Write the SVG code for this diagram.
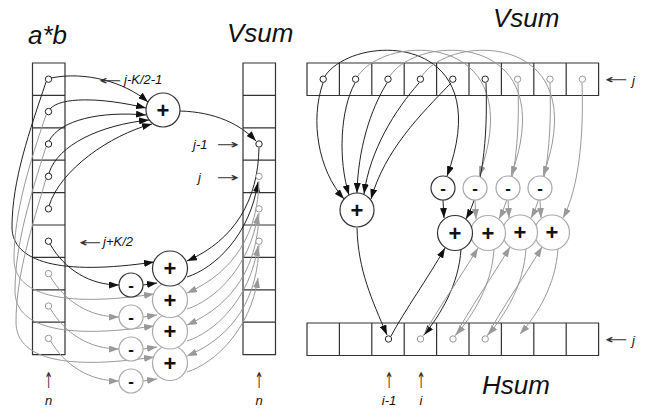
<svg xmlns="http://www.w3.org/2000/svg" width="653" height="408" viewBox="0 0 653 408">
  <style>
    .cell { fill: none; stroke: #333; stroke-width: 1.2; }
    .pt { fill: #fff; stroke: #222; stroke-width: 1; }
    .ptg { fill: #fff; stroke: #999; stroke-width: 1; }
    .k { fill: none; stroke: #222; stroke-width: 1; marker-end: url(#ak); }
    .g { fill: none; stroke: #999; stroke-width: 1; marker-end: url(#ag); }
    .op circle { fill: #fff; stroke: #333; stroke-width: 1.2; }
    .op.gr circle { stroke: #aaa; }
    .plus { font-family: "Liberation Sans", Arial, sans-serif; font-weight: bold; font-size: 22px; text-anchor: middle; fill: #111; }
    .minus { font-family: "Liberation Sans", Arial, sans-serif; font-weight: bold; font-size: 17px; text-anchor: middle; fill: #111; }
    .title { font-family: "Liberation Sans", Arial, sans-serif; font-style: italic; font-size: 26px; fill: #111; }
    .lbl { font-family: "Liberation Sans", Arial, sans-serif; font-style: italic; font-size: 13px; fill: #111; }
    .arr { font-family: "DejaVu Sans", sans-serif; font-size: 13px; fill: #333; }
    .up { font-family: "DejaVu Sans", sans-serif; font-size: 11px; fill: #333; text-anchor: middle; }
  </style>
  <defs>
    <marker id="ak" viewBox="0 0 10 7" refX="10" refY="3.5" markerWidth="10" markerHeight="7" orient="auto" markerUnits="userSpaceOnUse">
      <path d="M0,0 L10,3.5 L0,7 z" fill="#111"/>
    </marker>
    <marker id="ag" viewBox="0 0 10 7" refX="10" refY="3.5" markerWidth="10" markerHeight="7" orient="auto" markerUnits="userSpaceOnUse">
      <path d="M0,0 L10,3.5 L0,7 z" fill="#999"/>
    </marker>
  </defs>
  <rect width="653" height="408" fill="#fff"/>

  <!-- titles -->
  <text class="title" x="28" y="44">a*b</text>
  <text class="title" x="227" y="42">Vsum</text>
  <text class="title" x="493" y="27">Vsum</text>
  <text class="title" x="482" y="394">Hsum</text>

  <!-- arrays -->
  <g id="array-ab">
    <path class="cell" d="M32.5,63 H65 V354.6 H32.5 Z M32.5,95.4 H65 M32.5,127.8 H65 M32.5,160.2 H65 M32.5,192.6 H65 M32.5,225 H65 M32.5,257.4 H65 M32.5,289.8 H65 M32.5,322.2 H65"/>
  </g>
  <g id="array-vsum-col">
    <path class="cell" d="M243,63 H275.5 V354.6 H243 Z M243,95.4 H275.5 M243,127.8 H275.5 M243,160.2 H275.5 M243,192.6 H275.5 M243,225 H275.5 M243,257.4 H275.5 M243,289.8 H275.5 M243,322.2 H275.5"/>
  </g>
  <g id="array-vsum-row">
    <path class="cell" d="M307,63 H598.6 V95.5 H307 Z M339.4,63 V95.5 M371.8,63 V95.5 M404.2,63 V95.5 M436.6,63 V95.5 M469,63 V95.5 M501.4,63 V95.5 M533.8,63 V95.5 M566.2,63 V95.5"/>
  </g>
  <g id="array-hsum">
    <path class="cell" d="M307,323 H598.6 V355.5 H307 Z M339.4,323 V355.5 M371.8,323 V355.5 M404.2,323 V355.5 M436.6,323 V355.5 M469,323 V355.5 M501.4,323 V355.5 M533.8,323 V355.5 M566.2,323 V355.5"/>
  </g>

  <!-- connectors -->
  <g id="connectors">
    <!-- a*b window into the first adder -->
    <path class="k" d="M51,78 C85,71 125,82 148,102"/>
    <path class="k" d="M50,109 C60,97 100,97 146,108"/>
    <path class="k" d="M49,141 C60,120 100,111 146,115"/>
    <path class="k" d="M49,173 C58,145 100,125 149,120"/>
    <path class="k" d="M49,206 C60,170 110,135 152,124"/>
    <path class="k" d="M180,111 C215,112 240,124 256,141"/>

    <!-- a*b outgoing elements, looping round the left side -->
    <path class="k" d="M46,82 C30,130 12,180 12,227 C12,262 60,276 154,262"/>
    <path class="g" d="M46,115 C30,162 14,212 14,259 C14,294 60,308 154,294"/>
    <path class="g" d="M46,147 C31,194 15,244 15,291 C15,326 60,340 154,326"/>
    <path class="g" d="M46,179 C32,226 16,276 16,322 C16,357 60,371 154,357"/>

    <!-- a*b incoming elements to the subtractors -->
    <path class="k" d="M50,244 C65,270 90,285 119,285"/>
    <path class="g" d="M50,276 C65,302 90,317 119,317"/>
    <path class="g" d="M50,308 C65,334 90,349 119,349"/>
    <path class="g" d="M50,340 C65,366 90,381 119,381"/>

    <!-- subtractors into adders -->
    <path class="k" d="M143,285 L157,283"/>
    <path class="g" d="M143,317 L157,315"/>
    <path class="g" d="M143,349 L157,347"/>
    <path class="g" d="M143,381 L157,379"/>

    <!-- Vsum column recurrence -->
    <path class="k" d="M259,148 C258,200 235,240 187,261"/>
    <path class="k" d="M187,277 C215,268 250,235 258,182"/>
    <path class="g" d="M259,181 C258,232 235,272 187,293"/>
    <path class="g" d="M187,309 C215,300 250,267 258,214"/>
    <path class="g" d="M259,213 C258,264 235,304 187,325"/>
    <path class="g" d="M187,341 C215,332 250,299 258,246"/>
    <path class="g" d="M259,245 C258,296 235,336 187,356"/>
    <path class="g" d="M187,372 C215,363 250,330 258,278"/>

    <!-- Vsum row window into the first horizontal adder -->
    <path class="k" d="M323,83 C310,120 318,170 344,199"/>
    <path class="k" d="M355,83 C340,110 338,160 349,195"/>
    <path class="k" d="M387,83 C370,110 358,150 357,193"/>
    <path class="k" d="M419,83 C395,110 370,150 364,194"/>
    <path class="k" d="M451,83 C420,115 385,150 371,199"/>

    <!-- Vsum row outgoing elements, arching over the top -->
    <path class="k" d="M325,76 C355,32 500,32 447,176"/>
    <path class="g" d="M358,76 C387,32 532,32 479,176"/>
    <path class="g" d="M390,76 C419,32 564,32 511,176"/>
    <path class="g" d="M422,76 C451,32 596,32 543,176"/>

    <!-- Vsum row incoming elements -->
    <path class="k" d="M486,83 C488,140 482,190 466,219"/>
    <path class="g" d="M518,83 C520,140 514,190 499,219"/>
    <path class="g" d="M550,83 C552,140 546,190 531,218"/>
    <path class="g" d="M582,83 C584,140 578,190 563,218"/>

    <!-- subtractors into adders (row) -->
    <path class="k" d="M443,200 L444,218"/>
    <path class="g" d="M475,200 L476,219"/>
    <path class="g" d="M508,200 L509,218"/>
    <path class="g" d="M540,200 L541,218"/>

    <!-- Hsum recurrence -->
    <path class="k" d="M357,228 C358,270 372,300 387,335"/>
    <path class="k" d="M391,336 C405,310 428,278 445,248"/>
    <path class="k" d="M461,249 C459,285 440,315 424,335"/>
    <path class="g" d="M423,336 C437,310 460,278 478,248"/>
    <path class="g" d="M494,249 C492,285 473,315 456,335"/>
    <path class="g" d="M455,336 C469,310 492,277 510,247"/>
    <path class="g" d="M526,248 C524,285 505,315 488,335"/>
    <path class="g" d="M487,336 C501,310 524,277 542,247"/>
    <path class="g" d="M558,248 C556,285 537,315 520,334"/>
  </g>

  <!-- element taps -->
  <g id="taps">
    <circle class="pt" cx="48.5" cy="79.2" r="3.2"/>
    <circle class="pt" cx="48.5" cy="111.6" r="3.2"/>
    <circle class="pt" cx="48.5" cy="144" r="3.2"/>
    <circle class="pt" cx="48.5" cy="176.4" r="3.2"/>
    <circle class="pt" cx="48.5" cy="208.8" r="3.2"/>
    <circle class="pt" cx="48.5" cy="241.2" r="3.2"/>
    <circle class="ptg" cx="48.5" cy="273.6" r="3.2"/>
    <circle class="ptg" cx="48.5" cy="306" r="3.2"/>
    <circle class="ptg" cx="48.5" cy="338.4" r="3.2"/>

    <circle class="pt" cx="259" cy="144" r="3.2"/>
    <circle class="ptg" cx="259" cy="176.4" r="3.2"/>
    <circle class="ptg" cx="259" cy="208.8" r="3.2"/>
    <circle class="ptg" cx="259" cy="241.2" r="3.2"/>

    <circle class="pt" cx="323.2" cy="79.2" r="3.2"/>
    <circle class="pt" cx="355.6" cy="79.2" r="3.2"/>
    <circle class="pt" cx="388" cy="79.2" r="3.2"/>
    <circle class="pt" cx="420.4" cy="79.2" r="3.2"/>
    <circle class="pt" cx="452.8" cy="79.2" r="3.2"/>
    <circle class="pt" cx="485.2" cy="79.2" r="3.2"/>
    <circle class="ptg" cx="517.6" cy="79.2" r="3.2"/>
    <circle class="ptg" cx="550" cy="79.2" r="3.2"/>
    <circle class="ptg" cx="582.4" cy="79.2" r="3.2"/>

    <circle class="pt" cx="388.5" cy="339" r="3.2"/>
    <circle class="ptg" cx="420.5" cy="339" r="3.2"/>
    <circle class="ptg" cx="453" cy="339" r="3.2"/>
    <circle class="ptg" cx="485.2" cy="339" r="3.2"/>
  </g>

  <!-- vertical pass operators -->
  <g id="v-init" class="op"><circle cx="163" cy="110" r="17"/><text class="plus" x="163" y="117.5">+</text></g>
  <g id="v-sub1" class="op"><circle cx="131" cy="285" r="12"/><text class="minus" x="131" y="290.5">-</text></g>
  <g id="v-sub2" class="op gr"><circle cx="131" cy="317" r="12"/><text class="minus" x="131" y="322.5">-</text></g>
  <g id="v-sub3" class="op gr"><circle cx="131" cy="349" r="12"/><text class="minus" x="131" y="354.5">-</text></g>
  <g id="v-sub4" class="op gr"><circle cx="131" cy="381" r="12"/><text class="minus" x="131" y="386.5">-</text></g>
  <g id="v-add4" class="op gr"><circle cx="170" cy="363" r="17.5"/><text class="plus" x="170" y="370.5">+</text></g>
  <g id="v-add3" class="op gr"><circle cx="170" cy="331.5" r="17.5"/><text class="plus" x="170" y="339">+</text></g>
  <g id="v-add2" class="op gr"><circle cx="170" cy="300" r="17.5"/><text class="plus" x="170" y="307.5">+</text></g>
  <g id="v-add1" class="op"><circle cx="170" cy="268.5" r="17.5"/><text class="plus" x="170" y="276">+</text></g>

  <!-- horizontal pass operators -->
  <g id="h-init" class="op"><circle cx="357" cy="210" r="17"/><text class="plus" x="357" y="217.5">+</text></g>
  <g id="h-sub1" class="op"><circle cx="443" cy="188" r="12"/><text class="minus" x="443" y="193.5">-</text></g>
  <g id="h-sub2" class="op gr"><circle cx="475" cy="188" r="12"/><text class="minus" x="475" y="193.5">-</text></g>
  <g id="h-sub3" class="op gr"><circle cx="508" cy="188" r="12"/><text class="minus" x="508" y="193.5">-</text></g>
  <g id="h-sub4" class="op gr"><circle cx="540" cy="188" r="12"/><text class="minus" x="540" y="193.5">-</text></g>
  <g id="h-add4" class="op gr"><circle cx="552" cy="232.5" r="17.5"/><text class="plus" x="552" y="240">+</text></g>
  <g id="h-add3" class="op gr"><circle cx="520" cy="232.5" r="17.5"/><text class="plus" x="520" y="240">+</text></g>
  <g id="h-add2" class="op gr"><circle cx="488" cy="233" r="17.5"/><text class="plus" x="488" y="240.5">+</text></g>
  <g id="h-add1" class="op"><circle cx="455" cy="233" r="17.5"/><text class="plus" x="455" y="240.5">+</text></g>

  <!-- index labels: arrow glyphs are stretched along their own axis -->
  <text class="arr" transform="translate(99,84.5) scale(2.1,1)">←</text>
  <text class="lbl" x="124" y="84">j-K/2-1</text>
  <text class="arr" transform="translate(79,246.5) scale(2.1,1)">←</text>
  <text class="lbl" x="103" y="246">j+K/2</text>
  <text class="lbl" x="193" y="149">j-1</text>
  <text class="arr" transform="translate(216,148.5) scale(2.1,1)">→</text>
  <text class="lbl" x="198" y="182">j</text>
  <text class="arr" transform="translate(216,181.5) scale(2.1,1)">→</text>
  <text class="arr" transform="translate(605,84) scale(2.1,1)">←</text>
  <text class="lbl" x="632" y="85">j</text>
  <text class="arr" transform="translate(605,344) scale(2.1,1)">←</text>
  <text class="lbl" x="632" y="345">j</text>

  <text class="up" transform="translate(48.5,387.5) scale(1,2)">↑</text>
  <text class="lbl" x="48.5" y="405" text-anchor="middle">n</text>
  <text class="up" transform="translate(259,387.5) scale(1,2)">↑</text>
  <text class="lbl" x="259" y="405" text-anchor="middle">n</text>
  <text class="up" transform="translate(389,387.5) scale(1,2)">↑</text>
  <text class="lbl" x="389" y="405" text-anchor="middle">i-1</text>
  <text class="up" transform="translate(421,387.5) scale(1,2)">↑</text>
  <text class="lbl" x="421" y="405" text-anchor="middle">i</text>
</svg>
